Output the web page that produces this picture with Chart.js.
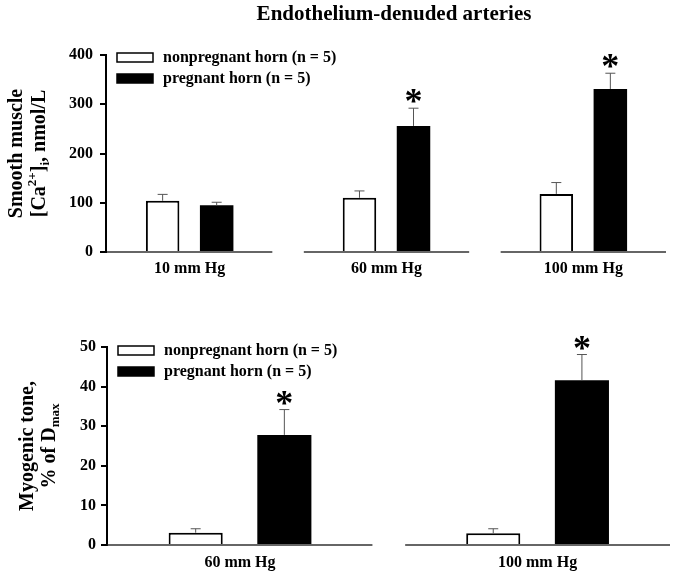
<!DOCTYPE html>
<html>
<head>
<meta charset="utf-8">
<script src="https://cdn.jsdelivr.net/npm/chart.js@4.4.0/dist/chart.umd.min.js"></script>
<style>
body { margin: 0; background: #fff; }
#top { position: absolute; left: 0; top: 0; width: 675px; height: 290px; }
#bottom { position: absolute; left: 0; top: 290px; width: 675px; height: 284px; }
</style>
</head>
<body>
<div id="top"><canvas id="caChart"></canvas></div>
<div id="bottom"><canvas id="toneChart"></canvas></div>
<script>
const seriesLabels = ['nonpregnant horn (n = 5)', 'pregnant horn (n = 5)'];

// top panel: smooth muscle [Ca2+]i
const caGroups = ['10 mm Hg', '60 mm Hg', '100 mm Hg'];
const caNonpregnant = [104, 110, 118];
const caNonpregnantErr = [13, 14, 23];
const caPregnant = [95, 256, 331];
const caPregnantErr = [6, 36, 32];
const caStar = [false, true, true];
const caTicks = [0, 100, 200, 300, 400];

// bottom panel: myogenic tone
const toneGroups = ['60 mm Hg', '100 mm Hg'];
const toneNonpregnant = [3.1, 2.95];
const toneNonpregnantErr = [1.0, 1.15];
const tonePregnant = [27.8, 41.6];
const tonePregnantErr = [6.4, 6.5];
const toneStar = [true, true];
const toneTicks = [0, 10, 20, 30, 40, 50];

const FONT = '"Liberation Serif", "Times New Roman", serif';
Chart.defaults.font.family = FONT;
Chart.defaults.font.weight = 'bold';
Chart.defaults.color = '#000';

function pts(vals) {
    return vals.map((v, i) => ({ x: i + 1, y: v }));
}

// draws text pieces (with sub/superscripts) rotated -90deg, centred at cx, cy
function drawRotated(ctx, parts, cx, cy) {
    ctx.save();
    ctx.translate(cx, cy);
    ctx.rotate(-Math.PI / 2);
    ctx.textBaseline = 'middle';
    ctx.textAlign = 'left';
    let total = 0;
    parts.forEach(p => {
        ctx.font = 'bold ' + p.size + 'px ' + FONT;
        p.w = ctx.measureText(p.t).width;
        total += p.w;
    });
    let x = -total / 2;
    parts.forEach(p => {
        ctx.font = 'bold ' + p.size + 'px ' + FONT;
        ctx.fillText(p.t, x, p.dy || 0);
        x += p.w;
    });
    ctx.restore();
}

const figurePlugin = {
    id: 'figure',
    afterDatasetsDraw(chart, args, o) {
        const ctx = chart.ctx;
        const xs = chart.scales.x, ys = chart.scales.y, area = chart.chartArea;

        // error bars + asterisks
        chart.data.datasets.forEach((ds, d) => {
            const meta = chart.getDatasetMeta(d);
            meta.data.forEach((bar, i) => {
                const v = ds.data[i].y;
                const yTop = ys.getPixelForValue(v);
                const yEnd = ys.getPixelForValue(v + ds.errors[i]);
                ctx.save();
                ctx.strokeStyle = '#555';
                ctx.lineWidth = 1;
                ctx.beginPath();
                ctx.moveTo(bar.x, yTop);
                ctx.lineTo(bar.x, yEnd);
                ctx.moveTo(bar.x - 5, yEnd);
                ctx.lineTo(bar.x + 5, yEnd);
                ctx.stroke();
                if (ds.stars && ds.stars[i]) {
                    ctx.fillStyle = '#000';
                    ctx.font = 'bold 36px ' + FONT;
                    ctx.textAlign = 'center';
                    ctx.textBaseline = 'alphabetic';
                    ctx.fillText('*', bar.x, yEnd + 5);
                }
                ctx.restore();
            });
        });

        // broken x axis, one piece per group
        ctx.save();
        ctx.strokeStyle = '#333';
        ctx.lineWidth = 1.5;
        o.groups.forEach((g, i) => {
            const a = Math.max(area.left, xs.getPixelForValue(i + 1 - o.half));
            const b = xs.getPixelForValue(i + 1 + o.half);
            ctx.beginPath();
            ctx.moveTo(a, area.bottom);
            ctx.lineTo(b, area.bottom);
            ctx.stroke();
        });
        ctx.restore();

        // legend
        ctx.save();
        chart.data.datasets.forEach((ds, d) => {
            const bx = area.left + 11, by = area.top + o.legendTop + d * 21;
            ctx.fillStyle = ds.backgroundColor;
            ctx.fillRect(bx, by, 36, 9);
            ctx.strokeStyle = '#000';
            ctx.lineWidth = 1.5;
            ctx.strokeRect(bx, by, 36, 9);
            ctx.fillStyle = '#000';
            ctx.font = 'bold 16px ' + FONT;
            ctx.textAlign = 'left';
            ctx.textBaseline = 'middle';
            ctx.fillText(ds.label, bx + 46, by + 5);
        });
        ctx.restore();

        // y title
        ctx.save();
        ctx.fillStyle = '#000';
        const cy = (area.top + area.bottom) / 2;
        o.yTitle.forEach(line => drawRotated(ctx, line.parts, line.x, cy));
        ctx.restore();

        // figure title
        if (o.title) {
            ctx.save();
            ctx.fillStyle = '#000';
            ctx.font = 'bold 21px ' + FONT;
            ctx.textAlign = 'center';
            ctx.textBaseline = 'middle';
            ctx.fillText(o.title, (area.left + area.right) / 2 + 8, 15);
            ctx.restore();
        }
    }
};

function makeChart(id, groups, np, npErr, pr, prErr, stars, ticks, cfg) {
    return new Chart(document.getElementById(id), {
        type: 'bar',
        data: {
            datasets: [
                { label: seriesLabels[0], data: pts(np), errors: npErr, backgroundColor: '#fff',
                  borderColor: '#000', borderWidth: 2 },
                { label: seriesLabels[1], data: pts(pr), errors: prErr, stars: stars, backgroundColor: '#000',
                  borderColor: '#000', borderWidth: 0 }
            ]
        },
        options: {
            responsive: true,
            maintainAspectRatio: false,
            animation: false,
            categoryPercentage: cfg.catPct,
            barPercentage: cfg.barPct,
            layout: { padding: { top: cfg.padTop, right: cfg.padRight, left: 0, bottom: 0 } },
            plugins: {
                legend: { display: false },
                tooltip: { enabled: false },
                figure: { groups: groups, half: cfg.half, legendTop: cfg.legendTop, yTitle: cfg.yTitle, title: cfg.title }
            },
            scales: {
                x: {
                    type: 'linear',
                    min: cfg.xMin,
                    max: cfg.xMax,
                    offset: false,
                    grid: { display: false, drawTicks: false },
                    border: { display: false },
                    afterBuildTicks: s => { s.ticks = groups.map((g, i) => ({ value: i + 1 })); },
                    afterFit: s => { s.height = cfg.xHeight; },
                    ticks: {
                        autoSkip: false, maxRotation: 0, padding: cfg.xPad,
                        font: { size: 16, weight: 'bold' },
                        callback: (v, i) => groups[i]
                    }
                },
                y: {
                    min: ticks[0],
                    max: ticks[ticks.length - 1],
                    afterBuildTicks: s => { s.ticks = ticks.map(t => ({ value: t })); },
                    afterFit: s => { s.width = cfg.yWidth; },
                    grid: { drawOnChartArea: false, color: '#000', lineWidth: 2, tickLength: 6 },
                    border: { color: '#000', width: 2 },
                    ticks: { padding: cfg.yPad, font: { size: 16, weight: 'bold' } }
                }
            }
        },
        plugins: [figurePlugin]
    });
}

const caChart = makeChart('caChart', caGroups, caNonpregnant, caNonpregnantErr, caPregnant, caPregnantErr, caStar, caTicks, {
    catPct: 0.549, barPct: 0.62, padTop: 55, padRight: 9, xMin: 0.575, xMax: 3.42, half: 0.42,
    xHeight: 38, xPad: 7, yWidth: 106, yPad: 7, legendTop: -2,
    title: 'Endothelium-denuded arteries',
    yTitle: [
        { x: 17, parts: [{ t: 'Smooth muscle', size: 20 }] },
        { x: 40, parts: [{ t: '[Ca', size: 20 }, { t: '2+', size: 13, dy: -7 }, { t: ']', size: 20 },
                          { t: 'i', size: 13, dy: 6 }, { t: ', nmol/L', size: 20 }] }
    ]
});

const toneChart = makeChart('toneChart', toneGroups, toneNonpregnant, toneNonpregnantErr, tonePregnant, tonePregnantErr, toneStar, toneTicks, {
    catPct: 0.596, barPct: 0.61, padTop: 57, padRight: 5, xMin: 0.553, xMax: 2.445, half: 0.445,
    xHeight: 29, xPad: 8, yWidth: 107, yPad: 5, legendTop: -1,
    yTitle: [
        { x: 28, parts: [{ t: 'Myogenic tone,', size: 20 }] },
        { x: 50, parts: [{ t: '% of D', size: 20 }, { t: 'max', size: 13, dy: 6 }] }
    ]
});
</script>
</body>
</html>
